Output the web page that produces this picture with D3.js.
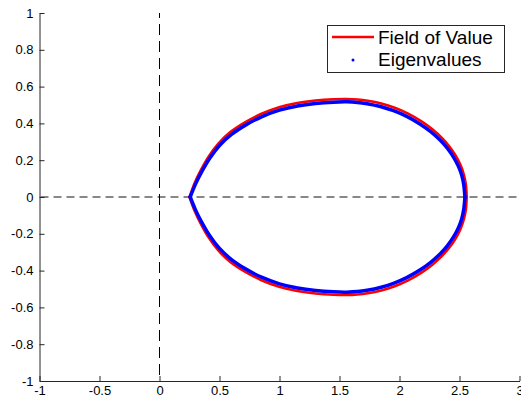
<!DOCTYPE html>
<html>
<head>
<meta charset="utf-8">
<script src="https://cdn.jsdelivr.net/npm/d3@7"></script>
<style>
  body { margin: 0; background: #fff; }
  text { font-family: "Liberation Sans", Arial, sans-serif; }
</style>
</head>
<body>
<div id="chart"></div>
<script>
// field of value boundary (red): cusp -> top -> right -> bottom -> cusp
const fovX = [0.25, 0.292, 0.341, 0.41, 0.49, 0.59, 0.712, 0.845, 0.997, 1.148, 1.30, 1.45, 1.56, 1.65, 1.735, 1.848, 1.96, 2.072, 2.183, 2.274, 2.355, 2.416, 2.466, 2.507, 2.535, 2.553, 2.56,
  2.553, 2.535, 2.507, 2.466, 2.416, 2.355, 2.274, 2.183, 2.072, 1.96, 1.848, 1.735, 1.65, 1.56, 1.45, 1.30, 1.148, 0.997, 0.845, 0.712, 0.59, 0.49, 0.41, 0.341, 0.292, 0.25];
const fovY = [0, 0.075, 0.142, 0.221, 0.291, 0.353, 0.406, 0.451, 0.488, 0.511, 0.5245, 0.5315, 0.533, 0.530, 0.523, 0.508, 0.485, 0.453, 0.411, 0.368, 0.320, 0.275, 0.227, 0.176, 0.125, 0.07, 0,
  -0.07, -0.125, -0.176, -0.227, -0.275, -0.320, -0.368, -0.411, -0.453, -0.485, -0.508, -0.523, -0.530, -0.533, -0.5315, -0.5245, -0.511, -0.488, -0.451, -0.406, -0.353, -0.291, -0.221, -0.142, -0.075, 0];

// eigenvalues (blue)
const eigX = [0.256, 0.30, 0.35, 0.42, 0.50, 0.60, 0.72, 0.85, 1.00, 1.15, 1.30, 1.45, 1.56, 1.65, 1.73, 1.84, 1.95, 2.06, 2.17, 2.26, 2.34, 2.40, 2.45, 2.49, 2.518, 2.535, 2.545,
  2.535, 2.518, 2.49, 2.45, 2.40, 2.34, 2.26, 2.17, 2.06, 1.95, 1.84, 1.73, 1.65, 1.56, 1.45, 1.30, 1.15, 1.00, 0.85, 0.72, 0.60, 0.50, 0.42, 0.35, 0.30, 0.256];
const eigY = [0, 0.07, 0.135, 0.212, 0.28, 0.34, 0.392, 0.436, 0.472, 0.495, 0.5085, 0.5155, 0.517, 0.514, 0.507, 0.492, 0.469, 0.438, 0.397, 0.355, 0.308, 0.264, 0.217, 0.168, 0.119, 0.068, 0,
  -0.068, -0.119, -0.168, -0.217, -0.264, -0.308, -0.355, -0.397, -0.438, -0.469, -0.492, -0.507, -0.514, -0.517, -0.5155, -0.5085, -0.495, -0.472, -0.436, -0.392, -0.34, -0.28, -0.212, -0.135, -0.07, 0];

const xTicks = [-1, -0.5, 0, 0.5, 1, 1.5, 2, 2.5, 3];
const yTicks = [-1, -0.8, -0.6, -0.4, -0.2, 0, 0.2, 0.4, 0.6, 0.8, 1];
const legendLabels = ['Field of Value', 'Eigenvalues'];

const svgWidth = 521;
const svgHeight = 398;
const margin = { top: 13, right: 1.5, bottom: 17, left: 39.5 };

const svg = d3.select('#chart')
  .append('svg')
  .attr('width', svgWidth)
  .attr('height', svgHeight);

const x = d3.scaleLinear().domain([-1, 3]).range([margin.left, svgWidth - margin.right]);
const y = d3.scaleLinear().domain([-1, 1]).range([svgHeight - margin.bottom, margin.top]);

const fmt = d => String(d);
const axisColor = '#262626';

// reference lines through the origin
svg.append('line')
  .attr('x1', x(-1)).attr('x2', x(3))
  .attr('y1', y(0)).attr('y2', y(0))
  .attr('stroke', '#888').attr('stroke-width', 2)
  .attr('stroke-dasharray', '8,5')
  .attr('stroke-dashoffset', -1);

svg.append('line')
  .attr('x1', x(0)).attr('x2', x(0))
  .attr('y1', y(1)).attr('y2', y(-1))
  .attr('stroke', '#000').attr('stroke-width', 1)
  .attr('stroke-dasharray', '11,6')
  .attr('stroke-dashoffset', 6);

// each closed curve is drawn as an upper and a lower half
const line = d3.line()
  .curve(d3.curveCatmullRom.alpha(0.5))
  .x(d => x(d[0]))
  .y(d => y(d[1]));

const halves = (xs, ys) => {
  const pts = d3.zip(xs, ys);
  const mid = (pts.length - 1) / 2;
  return [pts.slice(0, mid + 1), pts.slice(mid)];
};

const drawCurve = (xs, ys, color, width) => {
  svg.append('g')
    .selectAll('path')
    .data(halves(xs, ys))
    .join('path')
    .attr('d', line)
    .attr('fill', 'none')
    .attr('stroke', color)
    .attr('stroke-width', width)
    .attr('stroke-linejoin', 'round')
    .attr('stroke-linecap', 'round');
};

drawCurve(fovX, fovY, '#ff0000', 2.5);
drawCurve(eigX, eigY, '#0000ff', 3.5);

// axes
const xAxis = d3.axisBottom(x).tickValues(xTicks).tickFormat(fmt)
  .tickSizeInner(-5).tickSizeOuter(0).tickPadding(5);
const yAxis = d3.axisLeft(y).tickValues(yTicks).tickFormat(fmt)
  .tickSizeInner(-5).tickSizeOuter(0).tickPadding(6);

const gx = svg.append('g')
  .attr('transform', `translate(0,${y(-1)})`)
  .call(xAxis);
const gy = svg.append('g')
  .attr('transform', `translate(${x(-1)},0)`)
  .call(yAxis);

[gx, gy].forEach(g => {
  g.select('.domain').attr('stroke', axisColor);
  g.selectAll('.tick line').attr('stroke', axisColor);
  g.selectAll('.tick text')
    .attr('fill', '#000')
    .style('font-size', '13px')
    .style('font-family', '"Liberation Sans", Arial, sans-serif');
});

// legend
const legend = svg.append('g');
legend.append('rect')
  .attr('x', 327.5).attr('y', 25.5)
  .attr('width', 177).attr('height', 47)
  .attr('fill', '#fff')
  .attr('stroke', axisColor)
  .attr('stroke-width', 1);

legend.append('line')
  .attr('x1', 332).attr('x2', 374)
  .attr('y1', 37).attr('y2', 37)
  .attr('stroke', '#ff0000').attr('stroke-width', 2.5);

legend.append('circle')
  .attr('cx', 353).attr('cy', 60)
  .attr('r', 1.5)
  .attr('fill', '#0000ff');

legend.selectAll('text.lab')
  .data(legendLabels)
  .join('text')
  .attr('class', 'lab')
  .attr('x', 378)
  .attr('y', (d, i) => 44 + i * 22)
  .style('font-size', '19px')
  .attr('fill', '#000')
  .text(d => d);
</script>
</body>
</html>
